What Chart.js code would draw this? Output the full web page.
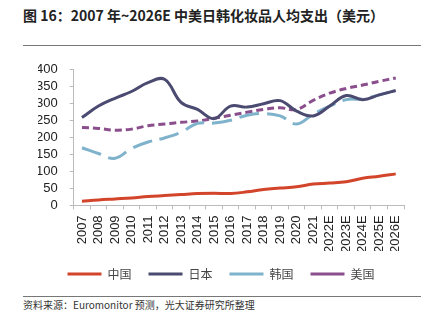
<!DOCTYPE html>
<html>
<head>
<meta charset="utf-8">
<script src="https://cdn.jsdelivr.net/npm/chart.js@4/dist/chart.umd.min.js"></script>
<style>
  html, body { margin: 0; padding: 0; background: #fff; }
  #wrap { position: relative; width: 432px; height: 327px; overflow: hidden; }
  #title { position: absolute; left: 23px; top: 5px; font: bold 14px "Noto Sans CJK SC", sans-serif; color: #222; white-space: nowrap; }
  .rule { position: absolute; left: 23px; width: 398px; height: 1px; background: #777; }
  #source { position: absolute; left: 23px; top: 297px; font: 10px "Noto Sans CJK SC", sans-serif; color: #333; white-space: nowrap; }
  #chartBox { position: absolute; left: 0; top: 50px; width: 432px; height: 242px; }
</style>
</head>
<body>
<div id="wrap">
  <div id="title">图 16：2007 年~2026E 中美日韩化妆品人均支出（美元）</div>
  <div class="rule" style="top:45px"></div>
  <div class="rule" style="top:296px"></div>
  <div id="source">资料来源：Euromonitor 预测，光大证券研究所整理</div>
  <div id="chartBox"><canvas id="chart" width="432" height="242"></canvas></div>
</div>
<script>
// categories and series
const years = ["2007", "2008", "2009", "2010", "2011", "2012", "2013", "2014", "2015", "2016",
  "2017", "2018", "2019", "2020", "2021", "2022E", "2023E", "2024E", "2025E", "2026E"];
const china = [12, 16, 19, 22, 26, 29, 32, 35, 36, 35, 40, 47, 51, 55, 63, 66, 70, 80, 86, 93];
const japan = [259, 293, 316, 336, 362, 372, 304, 283, 256, 293, 290, 300, 309, 278, 264, 293, 324, 312, 326, 339];
const korea = [170, 153, 139, 168, 187, 199, 216, 242, 243, 251, 266, 271, 264, 240, 269, 293, 312, 314, 326, 339];
const usa = [230, 227, 222, 225, 235, 240, 245, 249, 257, 266, 275, 283, 288, 283, 310, 331, 345, 355, 366, 376];
const yTicks = [0, 50, 100, 150, 200, 250, 300, 350, 400];

function series(label, data, color, dash) {
  return {
    label: label,
    data: data,
    borderColor: color,
    backgroundColor: color,
    borderWidth: 3,
    borderDash: dash,
    pointRadius: 0,
    tension: 0.4,
    fill: false
  };
}

const ctx = document.getElementById("chart").getContext("2d");
new Chart(ctx, {
  type: "line",
  data: {
    labels: years,
    datasets: [
      series("中国", china, "#d2452a", []),
      series("日本", japan, "#4b4a70", []),
      series("韩国", korea, "#7fb2cb", [20, 8]),
      series("美国", usa, "#8a4e8c", [7, 4])
    ]
  },
  options: {
    responsive: false,
    animation: false,
    // extra left padding keeps the legend centred like the original
    layout: { padding: { left: 38, right: 28, top: 14, bottom: 2 } },
    plugins: {
      tooltip: { enabled: false },
      legend: {
        position: "bottom",
        labels: {
          usePointStyle: true,
          pointStyle: "line",
          pointStyleWidth: 34,
          boxHeight: 12,
          padding: 17,
          color: "#444",
          font: { family: "Noto Sans CJK SC", size: 12 }
        }
      }
    },
    scales: {
      x: {
        offset: true,
        afterFit: scale => { scale.height -= 8; },
        grid: { display: true, drawOnChartArea: false, offset: true, tickLength: 4, color: "#bbb" },
        border: { color: "#bbb" },
        ticks: {
          minRotation: 90, maxRotation: 90, autoSkip: false,
          color: "#222", padding: 6,
          font: { family: "Liberation Sans", size: 13 }
        }
      },
      y: {
        min: 0, max: 400,
        afterBuildTicks: axis => { axis.ticks = yTicks.map(v => ({ value: v })); },
        afterFit: scale => { scale.width -= 14; },
        grid: { display: true, drawOnChartArea: false, tickLength: 4, color: "#bbb" },
        border: { color: "#bbb" },
        ticks: {
          autoSkip: false,
          color: "#222", padding: 12,
          font: { family: "Liberation Sans", size: 13 }
        }
      }
    }
  }
});
</script>
</body>
</html>
